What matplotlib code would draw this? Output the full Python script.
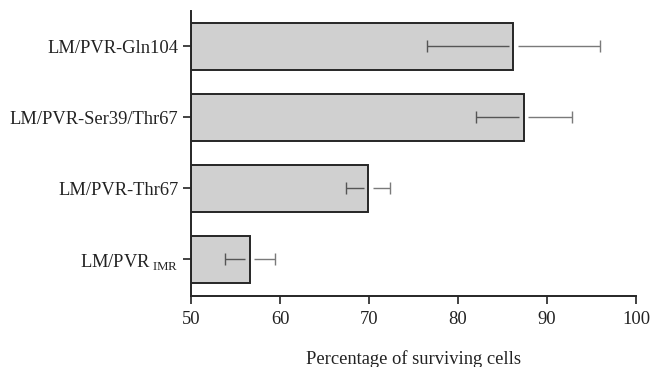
import numpy as np
import matplotlib
matplotlib.use("Agg")
import matplotlib.pyplot as plt

plt.rcParams['font.family'] = ['Liberation Serif', 'DejaVu Serif']
plt.rcParams['mathtext.fontset'] = 'custom'
plt.rcParams['mathtext.rm'] = 'Liberation Serif'

# data, top to bottom
labels = ["LM/PVR-Gln104", "LM/PVR-Ser39/Thr67", "LM/PVR-Thr67", r"LM/PVR$\,_{\mathrm{IMR}}$"]
survival = [86.2, 87.4, 69.9, 56.6]
errors = [9.7, 5.4, 2.5, 2.8]

fig = plt.figure(figsize=(6.51, 3.67), dpi=100)
ax = fig.add_axes([0.2934, 0.1935, 0.6836, 0.7766])

ypos = np.arange(len(labels))[::-1]
mean = np.array(survival)
err = np.array(errors)
ax.barh(ypos, mean - 50, left=50, height=0.66,
        color='#d0d0d0', edgecolor='#262626', linewidth=1.4, zorder=2)

# error bars: darker half inside the bar, lighter half outside, small gap at the edge
gap = 0.5
ax.hlines(ypos, mean - err, mean - gap, color='#555555', lw=1.0, zorder=3)
ax.hlines(ypos, mean + gap, mean + err, color='#7a7a7a', lw=1.0, zorder=3)
ax.plot(mean - err, ypos, ls='none', marker='|', ms=8, mew=1.0, color='#555555', zorder=3)
ax.plot(mean + err, ypos, ls='none', marker='|', ms=8, mew=1.0, color='#7a7a7a', zorder=3)

ax.set_xlim(50, 100)
ax.set_ylim(-0.52, 3.5)
ax.set_xticks([50, 60, 70, 80, 90, 100])
ax.set_yticks(ypos)
ax.set_yticklabels(labels)
ax.tick_params(axis='both', labelsize=13.3, length=6, width=1.2, direction='out',
               colors='#222222')
ax.tick_params(axis='x', pad=5)
ax.tick_params(axis='y', pad=3)
ax.spines['top'].set_visible(False)
ax.spines['right'].set_visible(False)
ax.spines['left'].set_linewidth(1.4)
ax.spines['bottom'].set_linewidth(1.4)
ax.spines['left'].set_color('#262626')
ax.spines['bottom'].set_color('#262626')
ax.set_xlabel("Percentage of surviving cells", fontsize=13.3, labelpad=16, color='#222222')

fig.savefig("out.png", dpi=100)
